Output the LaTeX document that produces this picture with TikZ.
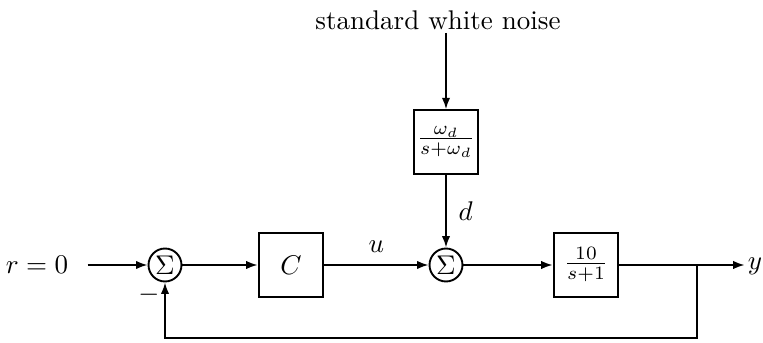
\documentclass[tikz,border=0pt]{standalone}
\usepackage{amsmath}
\usepackage{tikz}
\usetikzlibrary{arrows.meta,positioning,calc}
\tikzset{
  blockbox/.style={draw,line width=0.7pt,minimum width=24pt,minimum height=23.5pt,inner sep=1pt},
  sumnode/.style={draw,line width=0.7pt,circle,inner sep=0pt,minimum size=12.2pt},
  arrow/.style={-{Latex[length=1.5mm,width=1.1mm]},line width=0.7pt},
  textnode/.style={inner sep=1pt}
}
\begin{document}
\begin{tikzpicture}[x=0.37pt,y=-0.37pt]
\useasboundingbox (0,0) rectangle (763,343);
% blocks
\node[textnode] (ref) at (37,265) {$r=0$};
\node[sumnode] (sum1) at (165,265) {$\Sigma$};
\node[blockbox] (ctrl) at (291,265) {$C$};
\node[sumnode] (sum2) at (446,265) {$\Sigma$};
\node[blockbox] (filt) at (446,142) {$\frac{\omega_d}{s+\omega_d}$};
\node[blockbox] (plant) at (586,265) {$\frac{10}{s+1}$};
\node[textnode] (noise) at (438,20) {standard white noise};
\node[textnode,anchor=base] (yout) at (755,270) {$y$};
\node (minus) at (149,295) {$-$};
\coordinate (branch) at (697,265);
\coordinate (fb) at (697,338);
% signals
\draw[arrow,shorten <=6pt] (ref) -- (sum1);
\draw[arrow] (sum1) -- (ctrl);
\draw[arrow] (ctrl) -- node[above=1pt] {$u$} (sum2);
\draw[arrow] (sum2) -- (plant);
\draw[arrow] (plant) -- (plant -| yout.west);
\draw[arrow] (noise.south -| filt) -- (filt);
\draw[arrow] (filt) -- node[right=1pt] {$d$} (sum2);
\draw[arrow] (branch) -- (fb) -| (sum1.south);
\end{tikzpicture}
\end{document}
